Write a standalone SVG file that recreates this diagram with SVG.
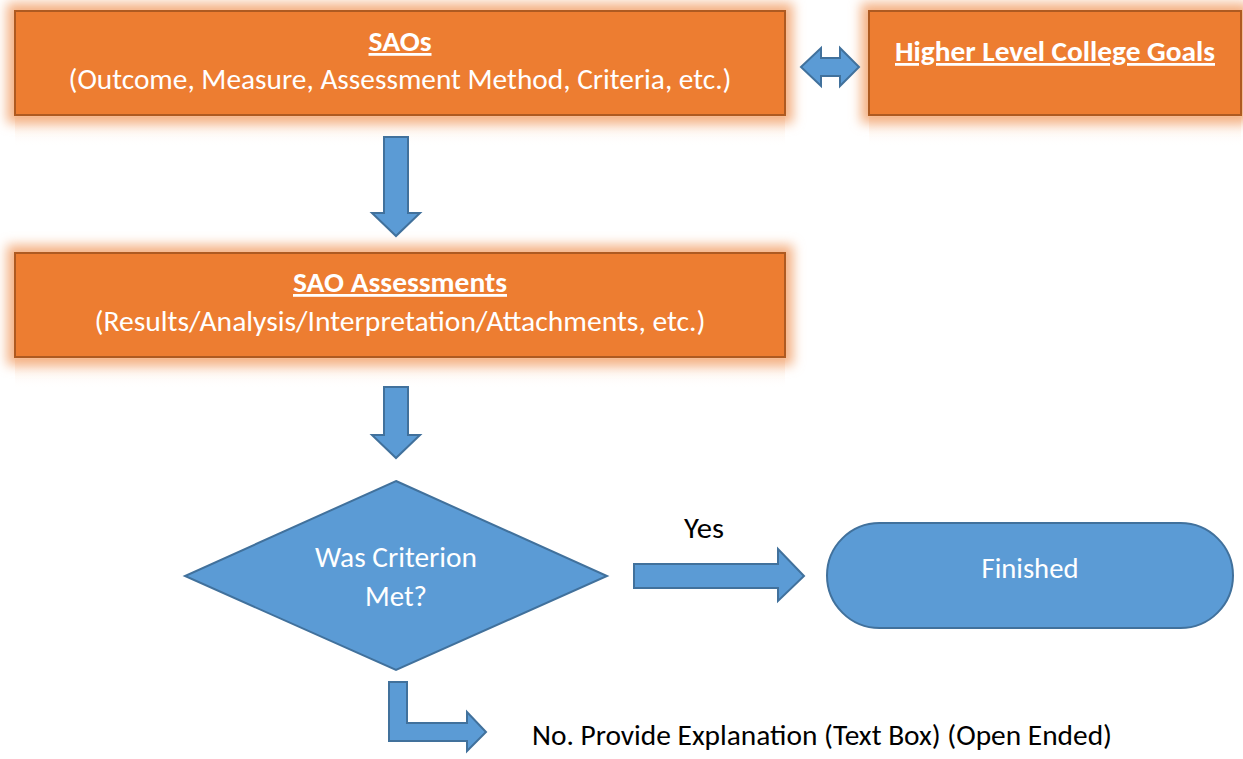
<svg xmlns="http://www.w3.org/2000/svg" width="1243" height="759" viewBox="0 0 1243 759">
  <defs>
    <style>
      .box { fill: #ED7D31; stroke: #AE5A21; stroke-width: 2; }
      .glow { fill: #F4B183; filter: url(#blur); }
      .refl { fill: url(#reflGrad); }
      .blue { fill: #5B9BD5; stroke: #41719C; stroke-width: 2; stroke-linejoin: miter; }
      .wt { fill: #FFFFFF; font-family: Carlito, Calibri, Lato, "Open Sans", sans-serif; font-size: 28px; text-anchor: middle; }
      .bold { font-weight: bold; text-decoration: underline; }
      .bt { fill: #000000; font-family: Carlito, Calibri, Lato, "Open Sans", sans-serif; font-size: 28px; }
    </style>
    <filter id="blur" x="-10%" y="-30%" width="120%" height="160%">
      <feGaussianBlur stdDeviation="6"/>
    </filter>
    <linearGradient id="reflGrad" x1="0" y1="0" x2="0" y2="1">
      <stop offset="0" stop-color="#F4B183" stop-opacity="0.35"/>
      <stop offset="1" stop-color="#FFFFFF" stop-opacity="0"/>
    </linearGradient>
  </defs>

  <rect width="1243" height="759" fill="#FFFFFF"/>

  <g id="node-saos">
    <rect class="refl" x="15" y="117" width="770" height="30"/>
    <rect class="glow" x="7" y="3" width="786" height="120"/>
    <rect class="box" x="15" y="11" width="770" height="104"/>
    <text class="wt bold" x="400" y="51" textLength="63" lengthAdjust="spacingAndGlyphs">SAOs</text>
    <text class="wt" x="400" y="89" textLength="663" lengthAdjust="spacingAndGlyphs">(Outcome, Measure, Assessment Method, Criteria, etc.)</text>
  </g>

  <g id="node-goals">
    <rect class="refl" x="869" y="117" width="372" height="30"/>
    <rect class="glow" x="861" y="3" width="388" height="120"/>
    <rect class="box" x="869" y="11" width="372" height="104"/>
    <text class="wt bold" x="1055" y="61" textLength="320" lengthAdjust="spacingAndGlyphs">Higher Level College Goals</text>
  </g>

  <g id="node-assessments">
    <rect class="refl" x="15" y="359" width="770" height="30"/>
    <rect class="glow" x="7" y="245" width="786" height="120"/>
    <rect class="box" x="15" y="253" width="770" height="104"/>
    <text class="wt bold" x="400" y="292" textLength="214" lengthAdjust="spacingAndGlyphs">SAO Assessments</text>
    <text class="wt" x="400" y="331" textLength="611" lengthAdjust="spacingAndGlyphs">(Results/Analysis/Interpretation/Attachments, etc.)</text>
  </g>

  <g id="node-decision">
    <polygon class="blue" points="396,481 607,576 396,670 185,576"/>
    <text class="wt" x="396" y="567" textLength="162" lengthAdjust="spacingAndGlyphs">Was Criterion</text>
    <text class="wt" x="396" y="606" textLength="62" lengthAdjust="spacingAndGlyphs">Met?</text>
  </g>

  <g id="node-finished">
    <rect class="blue" x="827" y="523" width="406" height="105" rx="52.5" ry="52.5"/>
    <text class="wt" x="1030" y="578" textLength="97" lengthAdjust="spacingAndGlyphs">Finished</text>
  </g>

  <g id="node-no-text">
    <text class="bt" x="532" y="745" textLength="580" lengthAdjust="spacingAndGlyphs">No. Provide Explanation (Text Box) (Open Ended)</text>
  </g>

  <g id="connectors">
    <polygon class="blue" points="801,67 821,48 821,58 840,58 840,48 859,67 840,86 840,76 821,76 821,86"/>
    <polygon class="blue" points="384,137 408,137 408,213 420,213 396,236 372,213 384,213"/>
    <polygon class="blue" points="384,387 408,387 408,435 420,435 396,458 372,435 384,435"/>
    <polygon class="blue" points="634,564 778,564 778,549 804,576 778,601 778,588 634,588"/>
    <text class="bt" x="704" y="538" text-anchor="middle" textLength="40" lengthAdjust="spacingAndGlyphs">Yes</text>
    <polygon class="blue" points="389,682 407,682 407,723 467,723 467,712 486,732 467,751 467,741 389,741"/>
  </g>
</svg>
